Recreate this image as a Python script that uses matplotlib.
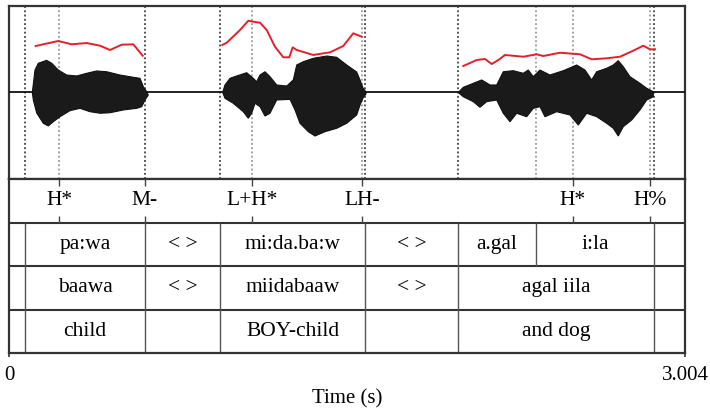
import numpy as np
import matplotlib
matplotlib.use("Agg")
import matplotlib.pyplot as plt

plt.rcParams['font.family'] = ['Liberation Serif', 'DejaVu Serif']

T_END = 3.004

# ---------------- waveform envelopes (time s, amplitude) ----------------
w1_top_t = [0.1036, 0.1156, 0.1302, 0.1675, 0.1898, 0.2191, 0.2564, 0.3008, 0.3453, 0.3897, 0.4342, 0.4933, 0.5524, 0.5821, 0.5968, 0.6119]
w1_top_a = [0.0, 0.260, 0.338, 0.372, 0.338, 0.260, 0.202, 0.191, 0.222, 0.249, 0.240, 0.202, 0.176, 0.164, 0.067, 0.009]
w1_bot_t = [0.1036, 0.1080, 0.1231, 0.1524, 0.1746, 0.1969, 0.2266, 0.2711, 0.3155, 0.3599, 0.4044, 0.4488, 0.5079, 0.5675, 0.5897, 0.6043, 0.6190]
w1_bot_a = [0.0, -0.087, -0.237, -0.356, -0.387, -0.338, -0.280, -0.210, -0.183, -0.222, -0.240, -0.234, -0.202, -0.183, -0.164, -0.087, -0.029]

w2_top_t = [0.9496, 0.9598, 0.9821, 1.0118, 1.0563, 1.0856, 1.1007, 1.1154, 1.1376, 1.1598, 1.1896, 1.2340, 1.2634, 1.2785, 1.3078, 1.3522, 1.4118, 1.4562, 1.5006, 1.5451, 1.5598, 1.5731, 1.5865]
w2_top_a = [0.0, 0.087, 0.164, 0.191, 0.229, 0.164, 0.125, 0.202, 0.240, 0.183, 0.087, 0.075, 0.145, 0.318, 0.356, 0.395, 0.422, 0.407, 0.318, 0.237, 0.145, 0.052, 0.006]
w2_bot_t = [0.9496, 0.9598, 0.9967, 1.0412, 1.0634, 1.0785, 1.0932, 1.1154, 1.1376, 1.1598, 1.1896, 1.2487, 1.2709, 1.2931, 1.3300, 1.3598, 1.4042, 1.4562, 1.5006, 1.5451, 1.5598, 1.5731, 1.5865]
w2_bot_a = [0.0, -0.067, -0.125, -0.222, -0.298, -0.240, -0.125, -0.164, -0.272, -0.240, -0.087, -0.079, -0.202, -0.356, -0.453, -0.503, -0.453, -0.414, -0.356, -0.260, -0.145, -0.064, -0.017]

w3_top_t = [1.9966, 2.0188, 2.0632, 2.1005, 2.1374, 2.1672, 2.1965, 2.2410, 2.2854, 2.3076, 2.3298, 2.3596, 2.4040, 2.4631, 2.5227, 2.5595, 2.5893, 2.6115, 2.6560, 2.6853, 2.7075, 2.7298, 2.7595, 2.8039, 2.8337, 2.8630]
w3_top_a = [0.0, 0.060, 0.106, 0.145, 0.087, 0.087, 0.240, 0.252, 0.222, 0.260, 0.183, 0.260, 0.202, 0.252, 0.318, 0.260, 0.145, 0.240, 0.280, 0.318, 0.368, 0.298, 0.183, 0.106, 0.049, 0.009]
w3_bot_t = [1.9966, 2.0188, 2.0632, 2.0930, 2.1227, 2.1672, 2.1965, 2.2263, 2.2561, 2.3005, 2.3298, 2.3596, 2.3818, 2.4338, 2.4929, 2.5298, 2.5671, 2.6115, 2.6560, 2.6853, 2.7075, 2.7298, 2.7671, 2.8039, 2.8337, 2.8630]
w3_bot_a = [0.0, -0.049, -0.106, -0.171, -0.106, -0.087, -0.240, -0.338, -0.240, -0.280, -0.183, -0.164, -0.280, -0.222, -0.260, -0.376, -0.240, -0.280, -0.356, -0.414, -0.503, -0.395, -0.318, -0.202, -0.087, -0.049]

# ---------------- pitch contour (time s, Hz) ----------------
p1_t = [0.1187, 0.2191, 0.2786, 0.3453, 0.4044, 0.4488, 0.5008, 0.5524, 0.5941]
p1_f = [269.1, 279.2, 272.5, 275.1, 269.7, 261.0, 271.7, 272.5, 249.4]
p2_t = [0.9478, 0.9674, 1.0265, 1.0634, 1.0856, 1.1154, 1.1452, 1.1820, 1.2189, 1.2456, 1.2607, 1.2785, 1.3522, 1.4264, 1.4855, 1.5300, 1.5598, 1.5673]
p2_f = [271.1, 275.7, 301.4, 320.2, 318.2, 316.2, 301.4, 267.6, 246.2, 246.2, 266.4, 261.0, 250.9, 256.3, 269.1, 294.8, 289.3, 287.9]
p3_t = [2.0188, 2.0783, 2.1152, 2.1450, 2.1743, 2.2041, 2.2854, 2.3450, 2.3743, 2.4485, 2.5374, 2.5893, 2.6560, 2.7151, 2.7742, 2.8186, 2.8485, 2.8707]
p3_f = [228.6, 240.7, 242.8, 232.6, 240.7, 250.9, 247.4, 252.3, 248.8, 255.5, 252.3, 242.2, 244.2, 247.4, 259.6, 269.7, 262.4, 262.4]

# ---------------- tiers ----------------
tone_times = [0.224, 0.603, 1.079, 1.568, 2.505, 2.849]
tone_labels = ["H*", "M-", "L+H*", "LH-", "H*", "H%"]

tier2_bounds = [0.072, 0.603, 0.938, 1.584, 1.996, 2.341, 2.868]
tier2_labels = ["", "pa:wa", "< >", "mi:da.ba:w", "< >", "a.gal", "i:la", ""]
tier3_bounds = [0.072, 0.603, 0.938, 1.584, 1.996, 2.868]
tier3_labels = ["", "baawa", "< >", "miidabaaw", "< >", "agal iila", ""]
tier4_bounds = [0.072, 0.603, 0.938, 1.584, 1.996, 2.868]
tier4_labels = ["", "child", "", "BOY-child", "", "and dog", ""]

x_ticks = [0, T_END]
x_tick_labels = ["0", "3.004"]

# ---------------- figure ----------------
W, H = 710, 411
fig = plt.figure(figsize=(W / 100, H / 100), dpi=100)

def box(l, t, r, b):
    return [l / W, 1 - b / H, (r - l) / W, (b - t) / H]

frame_col = "#333333"
ax_w = fig.add_axes(box(9, 6, 685, 179))
ax_t = fig.add_axes(box(9, 179, 685, 353))

# waveform panel
ax_w.set_xlim(0, T_END)
ax_w.set_ylim(-1, 1)
ax_w.set_xticks([])
ax_w.set_yticks([])
for s in ax_w.spines.values():
    s.set_color(frame_col)
    s.set_linewidth(1.6)

ax_w.axhline(0, color="#111111", lw=1.3, zorder=3)
for tt, ta, bt, ba in [(w1_top_t, w1_top_a, w1_bot_t, w1_bot_a),
                       (w2_top_t, w2_top_a, w2_bot_t, w2_bot_a),
                       (w3_top_t, w3_top_a, w3_bot_t, w3_bot_a)]:
    xs = np.concatenate([tt, bt[::-1]])
    ys = np.concatenate([ta, ba[::-1]])
    ax_w.fill(xs, ys, facecolor="#1a1a1a", edgecolor="#111111", lw=0.8, zorder=3)

dark_bounds = sorted(set(tier3_bounds))
light_lines = sorted(set(tone_times + tier2_bounds) - set(dark_bounds))
for x in dark_bounds:
    ax_w.axvline(x, color="#222222", lw=1.1, ls=(0, (1.2, 1.6)), zorder=2)
for x in light_lines:
    ax_w.axvline(x, color="#888888", lw=1.1, ls=(0, (1.2, 1.6)), zorder=2)

ax_p = ax_w.twinx()
ax_p.set_ylim(0, 350)
ax_p.set_yticks([])
ax_p.axis("off")
for t, f in [(p1_t, p1_f), (p2_t, p2_f), (p3_t, p3_f)]:
    ax_p.plot(t, f, color="#e3202a", lw=1.4, zorder=4)

# tiers
ax_t.set_xlim(0, T_END)
ax_t.set_ylim(0, 4)
ax_t.set_yticks([])
for s in ax_t.spines.values():
    s.set_color(frame_col)
    s.set_linewidth(1.6)
for yy in [1, 2, 3]:
    ax_t.axhline(yy, color=frame_col, lw=1.5)

fs = 15.5
# point tier (top, y 3..4)
tick_h = 0.16
for x, lab in zip(tone_times, tone_labels):
    ax_t.vlines(x, 4 - tick_h, 4, color="#444444", lw=1.0)
    ax_t.vlines(x, 3, 3 + tick_h, color="#444444", lw=1.0)
    ax_t.text(x, 3.5, lab, ha="center", va="center", fontsize=fs)

def draw_tier(bounds, labels, y0):
    edges = [0] + list(bounds) + [T_END]
    for x in bounds:
        ax_t.vlines(x, y0, y0 + 1, color="#555555", lw=1.0)
    for i, lab in enumerate(labels):
        if lab:
            ax_t.text((edges[i] + edges[i + 1]) / 2, y0 + 0.5, lab,
                      ha="center", va="center", fontsize=fs)

draw_tier(tier2_bounds, tier2_labels, 2)
draw_tier(tier3_bounds, tier3_labels, 1)
draw_tier(tier4_bounds, tier4_labels, 0)

ax_t.set_xticks(x_ticks)
ax_t.set_xticklabels(x_tick_labels, fontsize=15)
ax_t.tick_params(axis="x", direction="out", length=3, width=1.2, color=frame_col, pad=6.5)
ax_t.set_xlabel("Time (s)", fontsize=15, labelpad=3)

fig.savefig("out.png", dpi=100)
